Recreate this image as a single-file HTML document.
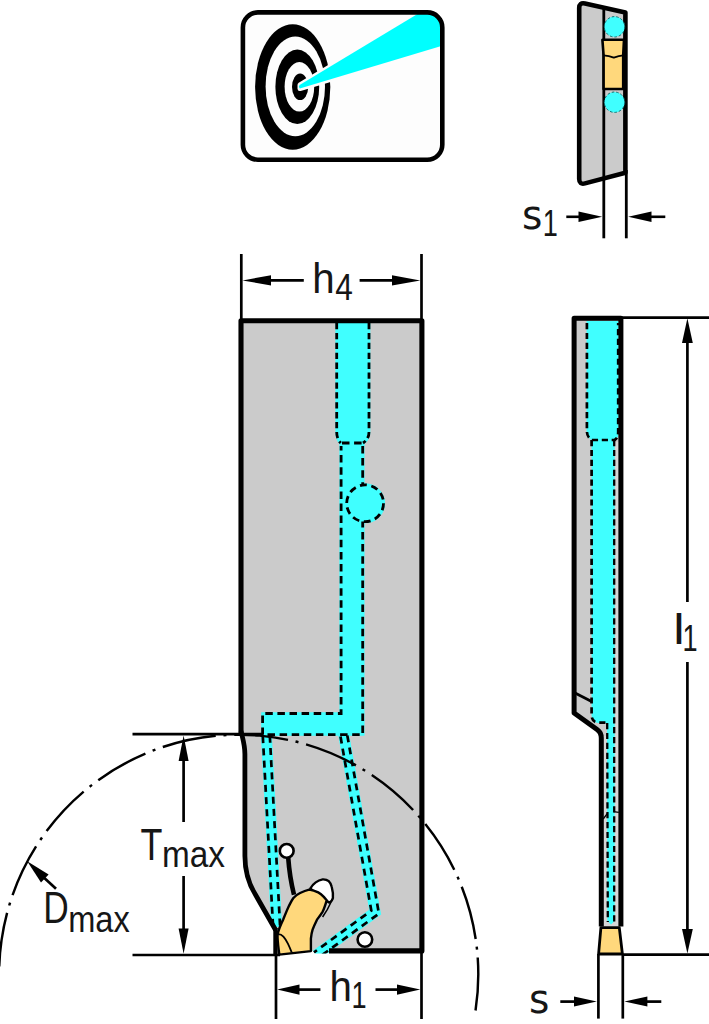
<!DOCTYPE html>
<html lang="en">
<head>
<meta charset="utf-8">
<title>Tool holder dimension drawing</title>
<style>
html,body{margin:0;padding:0;background:#fff;}
body{width:709px;height:1024px;overflow:hidden;}
svg{display:block;}
text{font-family:"Liberation Sans",sans-serif;fill:#161616;}
</style>
</head>
<body>
<svg width="709" height="1024" viewBox="0 0 709 1024">
<defs>
  <clipPath id="iconclip"><rect x="242.9" y="12.4" width="199.4" height="147.3" rx="15" ry="15"/></clipPath>
  <clipPath id="bodyclip"><path d="M241,320.7 H421.9 V953.5 H311 L279.3,955 L275.6,930 L255.4,894.6 C248.8,884 244.9,873 244.9,856 V754 C244.9,745 243,740 241,733 Z"/></clipPath>
</defs>
<rect x="0" y="0" width="709" height="1024" fill="#ffffff"/>

<!-- ===== target icon ===== -->
<g id="icon">
  <rect x="242.9" y="12.4" width="199.4" height="147.3" rx="15" ry="15" fill="#fdfdfd"/>
  <ellipse cx="292.7" cy="87" rx="37.6" ry="62.7" fill="#000"/>
  <ellipse cx="295.3" cy="86.4" rx="29.7" ry="49.8" fill="#fdfdfd"/>
  <ellipse cx="297.3" cy="86.8" rx="21.9" ry="37.2" fill="#000"/>
  <ellipse cx="299.4" cy="86.8" rx="14.8" ry="24.8" fill="#fdfdfd"/>
  <ellipse cx="300.1" cy="86.8" rx="8.1" ry="13.2" fill="#000"/>
  <g clip-path="url(#iconclip)">
    <polygon points="300,84.9 417.5,14 446,6 446,44.6 300,88.5" fill="#fdfdfd" stroke="#fdfdfd" stroke-width="5" stroke-linejoin="round"/>
    <polygon points="299.6,85 417.5,14 446,6 446,44.6 299.8,88.4 298.8,86.8" fill="#00ffff"/>
  </g>
  <rect x="242.9" y="12.4" width="199.4" height="147.3" rx="15" ry="15" fill="none" stroke="#000" stroke-width="4.6"/>
</g>

<!-- ===== top right small view (s1) ===== -->
<g id="topview">
  <path d="M579.2,4 L625.4,13 V172.4 L579.2,184 Z" fill="#cbcbcb"/>
  <line x1="603.8" y1="7" x2="603.8" y2="238.3" stroke="#000" stroke-width="2.8"/>
  <line x1="626.3" y1="170" x2="626.3" y2="238.3" stroke="#000" stroke-width="2.8"/>
  <path d="M602.4,39.8 H624 L623.2,55.4 V89 H603.6 V55.4 Z" fill="#ffd87c" stroke="#000" stroke-width="2.6" stroke-linejoin="round"/>
  <path d="M603.6,55.4 Q609,55.6 613.8,57.6 Q619,55.6 623.2,55.4" fill="none" stroke="#000" stroke-width="1.8"/>
  <path d="M579.2,179 V8 Q579.2,2.2 585,3.4 L625.4,12.6 V172.8 L585,183.4 Q579.2,184.8 579.2,179 Z" fill="none" stroke="#000" stroke-width="4.6" stroke-linejoin="round"/>
  <circle cx="614.5" cy="26.8" r="10.2" fill="#40ffff" stroke="#107070" stroke-width="1" stroke-dasharray="2.5 2"/>
  <circle cx="614.5" cy="102.2" r="10.2" fill="#40ffff" stroke="#107070" stroke-width="1" stroke-dasharray="2.5 2"/>
  <!-- s1 arrows -->
  <line x1="566.3" y1="216.8" x2="585" y2="216.8" stroke="#000" stroke-width="2.6"/>
  <polygon points="602.2,216.8 578.5,211.6 578.5,222" fill="#000"/>
  <line x1="645" y1="216.8" x2="665.3" y2="216.8" stroke="#000" stroke-width="2.6"/>
  <polygon points="628.2,216.8 651.5,211.6 651.5,222" fill="#000"/>
  <text x="522" y="229.2" font-size="40" style="font-family:'DejaVu Sans','Liberation Sans',sans-serif" textLength="20.4" lengthAdjust="spacingAndGlyphs">s</text>
  <text x="542.8" y="236" font-size="36.5" textLength="15.1" lengthAdjust="spacingAndGlyphs">1</text>
</g>

<!-- ===== main body ===== -->
<g id="body">
  <path d="M241,320.7 H421.9 V950.9 H312 L279.3,955 L275.6,930 L255.4,894.6 C248.8,884 244.9,873 244.9,856 V754 C244.9,745 243,740 241,733 Z" fill="#cbcbcb"/>

  <!-- coolant channels -->
  <g fill="#40ffff">
    <path d="M335.4,321.3 H370.3 V433 Q370.3,440 364.5,443.6 V735.8 H261.2 V712.2 H339.4 V443.6 Q335.4,440 335.4,433 Z"/>
    <circle cx="365.1" cy="503.3" r="20"/>
  </g>
  <g fill="none" stroke="#40ffff" stroke-width="11" stroke-linejoin="miter" clip-path="url(#bodyclip)">
    <path d="M266.2,732.0 L276.6,927.0"/>
    <path d="M343.2,732.0 L375.1,912.1 L316.0,955.2"/>
  </g>
  <g fill="none" stroke="#000" stroke-width="2.8" stroke-dasharray="6.3 3.6">
    <path d="M336.7,323 V432 Q336.7,439 340.8,443"/>
    <path d="M369,323 V432 Q369,439 363,443"/>
  </g>
  <g fill="none" stroke="#000" stroke-width="2.8" stroke-dasharray="7.5 4.6">
    <path d="M342,443 H363"/>
    <path d="M341.1,446 V713.5 H262.6 V734.7 H362.7 V521.6" stroke-dashoffset="3"/>
    <path d="M362.7,446 V485"/>
    <circle cx="365.1" cy="503.3" r="18.4" stroke-dasharray="7 4.56"/>
  </g>
  <g fill="none" stroke="#000" stroke-width="2.7" stroke-dasharray="7 5.2" clip-path="url(#bodyclip)">
    <path d="M262.8,736.2 L273.1,927.2"/>
    <path d="M269.8,735.8 L280.1,926.8"/>
    <path d="M340.5,736.6 L371.3,910.6 L314.0,952.4"/>
    <path d="M347.3,735.4 L378.9,913.6 L318.0,958.0"/>
  </g>

  <!-- pocket / insert -->
  <path d="M310.3,888.5 C313,884 317,880.4 322.7,879.4 C327.5,879.2 330.6,882 331.7,886.8 C332.8,891 333.2,895 332.9,898 C332.4,900.4 331,901.8 329.5,902.6 L320,897 Z" fill="#fff" stroke="#000" stroke-width="2.4" stroke-linejoin="round"/>
  <path d="M332.9,898.5 L327.4,909.4 L322.6,917" fill="none" stroke="#000" stroke-width="1.5"/>
  <path d="M279.3,954.6 C278.4,947 277.2,940 277.6,934.2 C279,928 281,924 283.2,919.5 C285,915 287,910 288.9,906 C290.4,903 291.6,900.4 293.4,898 C295.4,895.6 297.6,894.2 300.1,893 C303,891.6 306,890.4 309.2,889.6 C312.4,890 315.4,891 318.2,892.4 C320.4,893.6 322.2,895.2 323.8,896.9 L326.7,900.3 C325.6,904 324.4,908 322.7,911.6 C321,914.4 319,917 317.1,919.5 C315.4,923 313.8,926.4 312.6,929.7 C311.6,932.8 311.2,935.8 310.9,938.7 L310.9,951.1 Z" fill="#ffd87c" stroke="#000" stroke-width="2.4" stroke-linejoin="round"/>
  <path d="M277.6,934.2 C280,934 282,935 283.4,936.6 C285.4,938.8 286.8,941.4 287.9,943.6 C289.4,946.6 290.6,949.6 291.7,952.4" fill="none" stroke="#000" stroke-width="1.8"/>
  <path d="M288.2,857.5 Q289.6,877 294,894.8" fill="none" stroke="#000" stroke-width="4.6"/>
  <circle cx="286.7" cy="850.9" r="6.9" fill="#fff" stroke="#000" stroke-width="2.6"/>
  <circle cx="364.9" cy="939.5" r="7.3" fill="#fff" stroke="#000" stroke-width="2.6"/>

  <!-- outline -->
  <path d="M241,736 V320.7 H421.9 V950.9 H329" fill="none" stroke="#000" stroke-width="5.1" stroke-linejoin="round"/>
  <path d="M241,731 C243,740 244.9,745 244.9,754 V856 C244.9,873 248.8,884 255.4,894.6 L275.6,930" fill="none" stroke="#000" stroke-width="4.8"/>
  <line x1="275.5" y1="928" x2="275.5" y2="956" stroke="#000" stroke-width="4.4"/>
</g>

<!-- ===== Dmax arc ===== -->
<path d="M-0.77,966.36 A239.6,239.6 0 0 1 259.58,735.61 A239.6,239.6 0 0 1 475.54,1010.54" fill="none" stroke="#000" stroke-width="2.45" stroke-dasharray="54.2 7.7 3 7.86"/>

<!-- ===== dimensions ===== -->
<g stroke="#000" stroke-width="2.7" fill="none">
  <!-- h4 -->
  <line x1="241.3" y1="254" x2="241.3" y2="321"/>
  <line x1="421.5" y1="254" x2="421.5" y2="321"/>
  <line x1="262" y1="280.4" x2="303.8" y2="280.4"/>
  <line x1="359.6" y1="280.4" x2="400" y2="280.4"/>
  <!-- Tmax -->
  <line x1="132.5" y1="734.2" x2="262" y2="734.2"/>
  <line x1="132.5" y1="955" x2="280" y2="955"/>
  <line x1="183.6" y1="755" x2="183.6" y2="822"/>
  <line x1="183.6" y1="876" x2="183.6" y2="935"/>
  <!-- h1 -->
  <line x1="276" y1="955" x2="276" y2="1019"/>
  <line x1="421.5" y1="950" x2="421.5" y2="1019"/>
  <line x1="295" y1="989.6" x2="320.4" y2="989.6"/>
  <line x1="375.5" y1="989.6" x2="402" y2="989.6"/>
  <!-- l1 -->
  <line x1="620" y1="317.6" x2="709" y2="317.6"/>
  <line x1="623" y1="954.6" x2="709" y2="954.6"/>
  <line x1="687.4" y1="338" x2="687.4" y2="602"/>
  <line x1="687.4" y1="662" x2="687.4" y2="934"/>
  <!-- s -->
  <line x1="598.4" y1="954" x2="598.4" y2="1018.6"/>
  <line x1="622.8" y1="954" x2="622.8" y2="1018.6"/>
  <line x1="560.3" y1="1001.6" x2="580" y2="1001.6"/>
  <line x1="641" y1="1001.6" x2="661.3" y2="1001.6"/>
  <!-- Dmax leader -->
  <line x1="40" y1="874" x2="56" y2="888.8"/>
</g>
<g fill="#000">
  <polygon points="242.5,280.4 271,275.2 271,285.6"/>
  <polygon points="420.3,280.4 392,275.2 392,285.6"/>
  <polygon points="183.6,735.4 178.6,761 188.6,761"/>
  <polygon points="183.6,953.8 178.6,928.5 188.6,928.5"/>
  <polygon points="277.2,989.6 299.5,984.4 299.5,994.8"/>
  <polygon points="420.3,989.6 397,984.4 397,994.8"/>
  <polygon points="687.4,318.2 682,343 692.8,343"/>
  <polygon points="687.4,953.4 682,929 692.8,929"/>
  <polygon points="596.8,1001.6 574,996.6 574,1006.6"/>
  <polygon points="624.4,1001.6 647.4,996.6 647.4,1006.6"/>
  <polygon points="27.2,861.2 48.6,874.6 41,882.6"/>
</g>

<!-- ===== side view ===== -->
<g id="sideview">
  <path d="M574.1,318.3 H620.9 V926.4 H601 V735 L599,730.4 L574.1,712.8 Z" fill="#cbcbcb"/>
  <rect x="603.6" y="736" width="15" height="190" fill="#d6d6d6"/>
  <rect x="615" y="442" width="3.6" height="484" fill="#d6d6d6"/>
  <path d="M586.6,321 H618.6 V433 Q618.6,438 614.6,440.4 V921 L611,924.4 L607.4,921 L607,723 H598 Q591.6,722 591.6,715 V440 Q586.6,437 586.6,431 Z" fill="#40ffff"/>
  <g fill="none" stroke="#000" stroke-width="2.7" stroke-dasharray="6.2 3.7">
    <path d="M586.9,323 V431 Q586.9,437 591.6,440 H614.6 Q618.2,438 618.2,432 V323"/>
    <path d="M591.6,440 V715 Q591.6,722.6 599,722.6 H607"/>
  </g>
  <g fill="none" stroke="#000" stroke-width="2.3" stroke-dasharray="6.2 3.7">
    <path d="M614.2,440 V922"/>
    <path d="M607.2,723 L607.8,922"/>
  </g>
  <path d="M574.1,692.6 L591.6,701.6" stroke="#000" stroke-width="2.8" fill="none"/>
  <path d="M603.2,819 L607.6,813.2 M613.6,811.6 L618.8,812.4" stroke="#000" stroke-width="1.3" fill="none"/>
  <path d="M601.3,926.4 V738 Q601.3,732.4 597.4,729.8 L574.1,713 V318.3 H620.9 V926.4" fill="none" stroke="#000" stroke-width="5" stroke-linejoin="round"/>
  <path d="M600.9,927.6 H619.3 L622.4,954 H598.6 Z" fill="#ffd87c" stroke="#000" stroke-width="2.8" stroke-linejoin="round"/>
</g>

<!-- ===== labels ===== -->
<text x="312.2" y="292.8" font-size="43" textLength="22.4" lengthAdjust="spacingAndGlyphs">h</text>
<text x="335.2" y="299.7" font-size="36.5" textLength="17.6" lengthAdjust="spacingAndGlyphs">4</text>
<text x="329.4" y="1001.2" font-size="43" textLength="22.4" lengthAdjust="spacingAndGlyphs">h</text>
<text x="351.6" y="1008.3" font-size="36.5" textLength="15.1" lengthAdjust="spacingAndGlyphs">1</text>
<text x="140.4" y="860" font-size="44.3" textLength="21.9" lengthAdjust="spacingAndGlyphs">T</text>
<text x="162" y="866.8" font-size="37" textLength="63" lengthAdjust="spacingAndGlyphs">max</text>
<text x="43.2" y="922.9" font-size="44.3" textLength="25.5" lengthAdjust="spacingAndGlyphs">D</text>
<text x="68.2" y="932" font-size="37" textLength="61.6" lengthAdjust="spacingAndGlyphs">max</text>
<text x="673.3" y="644.2" font-size="43" textLength="11.4" lengthAdjust="spacingAndGlyphs">l</text>
<text x="682.6" y="651.4" font-size="36.5" textLength="15.1" lengthAdjust="spacingAndGlyphs">1</text>
<text x="529" y="1013.4" font-size="40" style="font-family:'DejaVu Sans','Liberation Sans',sans-serif" textLength="20.4" lengthAdjust="spacingAndGlyphs">s</text>
</svg>
</body>
</html>
